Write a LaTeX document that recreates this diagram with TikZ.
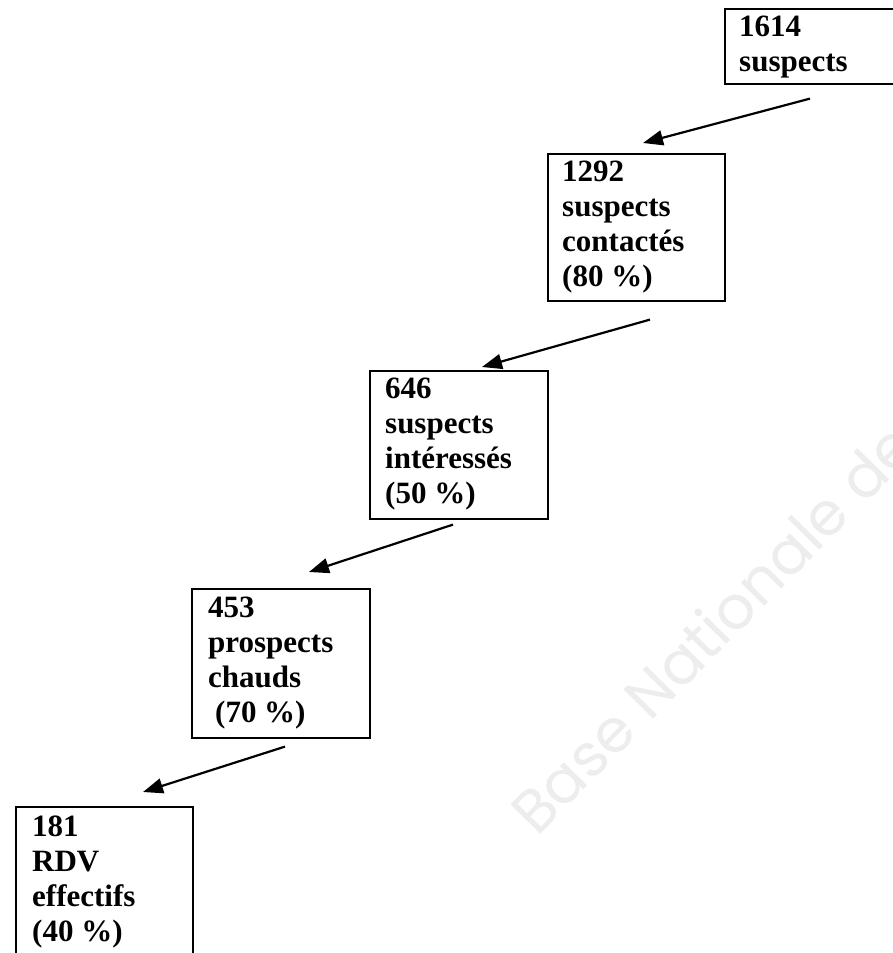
\documentclass[tikz,border=0pt]{standalone}
\usepackage{fontspec}
\setmainfont{Liberation Serif}
\newfontfamily\wmfont{Poppins}
\usetikzlibrary{arrows.meta,calc}
\begin{document}
\begin{tikzpicture}[x=1pt,y=-1pt,
  boxnode/.style={draw=black, line width=1.6pt, anchor=north west, inner sep=0pt},
  txt/.style={anchor=north west, inner sep=0pt, align=left, font=\fontsize{31}{35}\selectfont\bfseries},
  arr/.style={line width=2.2pt, -{Triangle[length=20pt,width=15pt]}},
  wm/.style={text=black!7, font=\wmfont\fontsize{60}{64}\selectfont, inner sep=0pt}]
\useasboundingbox (0,0) rectangle (893,953);
\clip (0,0) rectangle (893,953);
\fill[white] (0,0) rectangle (893,953);
% watermark
\node[wm, rotate=45.5, anchor=base west] (wmk) at (537,838) {Base Nationale de};
% boxes
\node[boxnode, minimum width=200pt, minimum height=75pt] (b1) at (724,8) {};
\node[boxnode, minimum width=177pt, minimum height=147pt] (b2) at (547,153) {};
\node[boxnode, minimum width=178pt, minimum height=148pt] (b3) at (369,370) {};
\node[boxnode, minimum width=178pt, minimum height=149pt] (b4) at (191,588) {};
\node[boxnode, minimum width=177pt, minimum height=200pt] (b5) at (15,806) {};
% texts
\node[txt] (t1) at ($(b1.north west)+(15,8)$) {1614\\suspects};
\node[txt] (t2) at ($(b2.north west)+(15,8)$) {1292\\suspects\\contactés\\(80 \%)};
\node[txt] (t3) at ($(b3.north west)+(16,8)$) {646\\suspects\\intéressés\\(50 \%)};
\node[txt] (t4) at ($(b4.north west)+(17,9)$) {453\\prospects\\chauds\\\hspace*{7pt}(70 \%)};
\node[txt] (t5) at ($(b5.north west)+(17,10)$) {181\\RDV\\effectifs\\(40 \%)};
% arrow end points
\coordinate (s1) at ($(b1.south west)+(86,14)$);
\coordinate (e1) at ($(b2.north west)+(96,-10)$);
\coordinate (s2) at ($(b2.south west)+(103,18)$);
\coordinate (e2) at ($(b3.north west)+(113,-3)$);
\coordinate (s3) at ($(b3.south west)+(84,5)$);
\coordinate (e3) at ($(b4.north west)+(118,-16)$);
\coordinate (s4) at ($(b4.south west)+(94,8)$);
\coordinate (e4) at ($(b5.north west)+(128,-14)$);
\draw[arr] (s1) -- (e1);
\draw[arr] (s2) -- (e2);
\draw[arr] (s3) -- (e3);
\draw[arr] (s4) -- (e4);
\end{tikzpicture}
\end{document}
